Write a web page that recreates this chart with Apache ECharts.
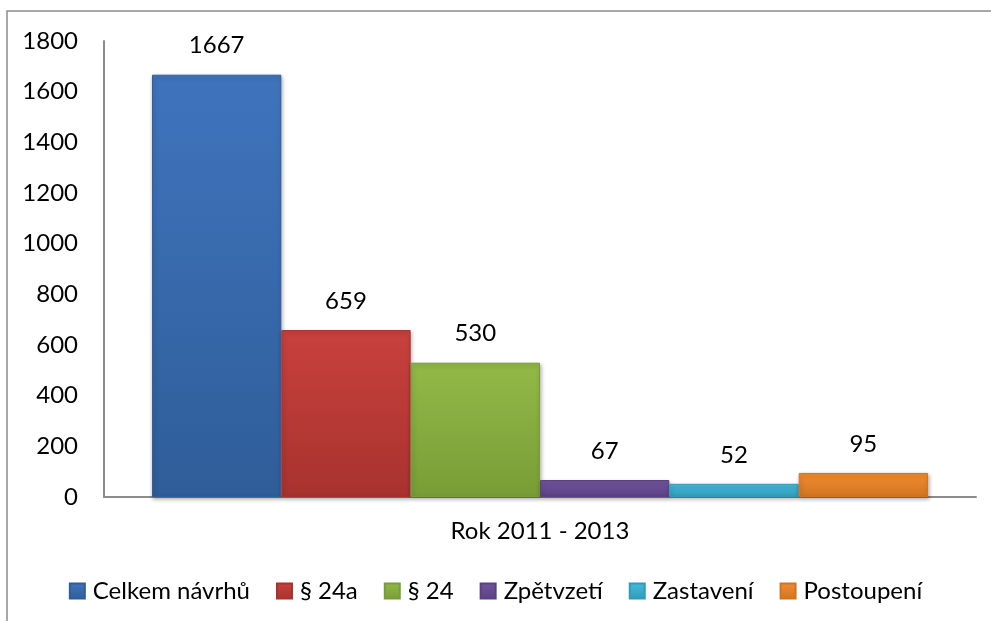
<!DOCTYPE html>
<html>
<head>
<meta charset="utf-8">
<script src="https://cdn.jsdelivr.net/npm/echarts@6/dist/echarts.min.js"></script>
<style>html,body{margin:0;padding:0;background:#fff}#c{width:991px;height:621px}</style>
</head>
<body>
<div id="c"></div>
<script>
const categories = ['Rok 2011 - 2013'];
const seriesNames = ['Celkem návrhů', '§ 24a', '§ 24', 'Zpětvzetí', 'Zastavení', 'Postoupení'];
const seriesValues = [1667, 659, 530, 67, 52, 95];
const yTicks = [0, 200, 400, 600, 800, 1000, 1200, 1400, 1600, 1800];
const colorsLight = ['#3f74bd', '#c8413d', '#93b948', '#7356a0', '#45bddd', '#f08d33'];
const colorsDark  = ['#2f5d99', '#a8322f', '#789d36', '#5b4082', '#2f9bb8', '#d2741f'];

const FONT = 'Lato';
const FS = 24;
const chart = echarts.init(document.getElementById('c'));
chart.setOption({
  animation: false,
  textStyle: { fontFamily: FONT },
  graphic: [{
    type: 'rect', silent: true, z: -10,
    shape: { x: 7, y: 11, width: 1100, height: 800 },
    style: { fill: 'none', stroke: '#8c8c8c', lineWidth: 1.5 }
  }],
  grid: { left: 104, right: 15, top: 41, bottom: 124, containLabel: false },
  legend: {
    top: 574, left: 'center', itemGap: 26, itemWidth: 15, itemHeight: 15,
    icon: 'rect',
    textStyle: { fontFamily: FONT, fontSize: FS, color: '#000', padding: [0, 0, 0, 3] },
    data: seriesNames
  },
  xAxis: {
    type: 'category', data: categories,
    axisLine: { lineStyle: { color: '#8c8c8c', width: 2 } },
    axisTick: { show: false },
    axisLabel: { fontFamily: FONT, fontSize: FS, color: '#000', margin: 22 }
  },
  yAxis: {
    type: 'value', min: yTicks[0], max: yTicks[yTicks.length - 1], interval: 200,
    axisLine: { show: true, lineStyle: { color: '#8c8c8c', width: 2 } },
    axisTick: { show: false },
    splitLine: { show: false },
    axisLabel: { fontFamily: FONT, fontSize: FS, color: '#000', margin: 26, formatter: v => String(v) }
  },
  series: seriesNames.map((n, i) => ({
    name: n, type: 'bar', data: [seriesValues[i]],
    barGap: '0%', barCategoryGap: '11%',
    itemStyle: {
      color: new echarts.graphic.LinearGradient(0, 0, 0, 1, [
        { offset: 0, color: colorsLight[i] },
        { offset: 1, color: colorsDark[i] }
      ]),
      borderColor: colorsDark[i], borderWidth: 1,
      shadowBlur: 4, shadowColor: 'rgba(0,0,0,0.3)', shadowOffsetX: 1, shadowOffsetY: 2
    },
    label: { show: true, position: 'top', distance: 17, fontFamily: FONT, fontSize: FS, color: '#000' }
  }))
});
</script>
</body>
</html>
